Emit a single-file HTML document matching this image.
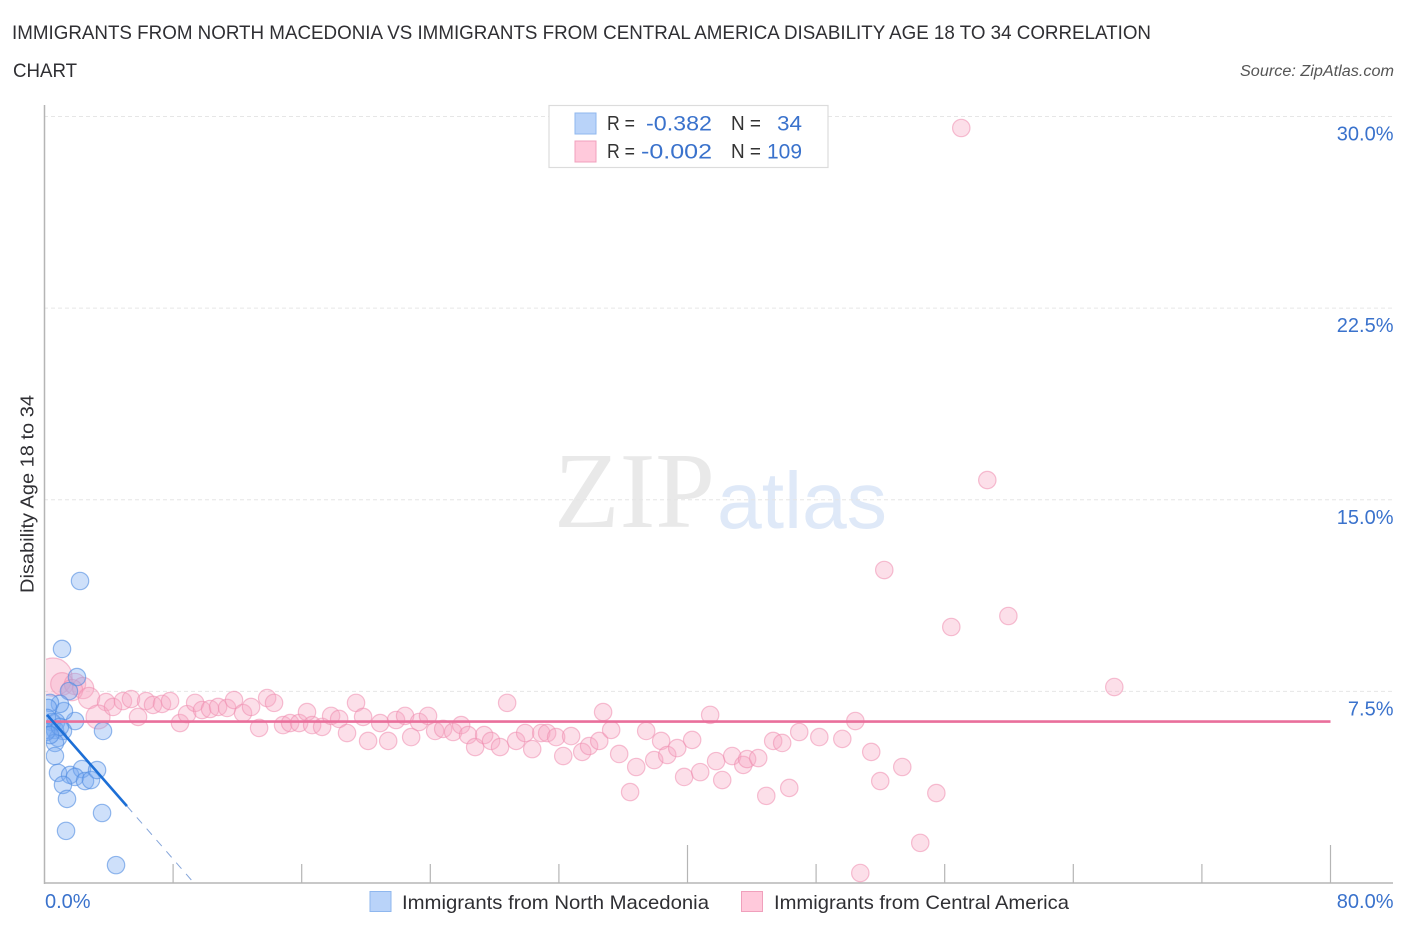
<!DOCTYPE html>
<html lang="en">
<head>
<meta charset="utf-8">
<title>Disability Age 18 to 34 Correlation Chart</title>
<style>
html,body{margin:0;padding:0;background:#fff;width:1406px;height:930px;overflow:hidden}
svg{display:block;font-family:"Liberation Sans",sans-serif}
</style>
</head>
<body>
<svg id="chart" xmlns="http://www.w3.org/2000/svg" width="1406" height="930" viewBox="0 0 1406 930">
  <defs>
    <clipPath id="plot-clip"><rect x="46" y="100" width="1350" height="783"/></clipPath>
  </defs>
  <rect width="1406" height="930" fill="#fff"/>

  <text x="12" y="39" font-size="19.5" fill="#2f2f33" textLength="1139" lengthAdjust="spacingAndGlyphs">IMMIGRANTS FROM NORTH MACEDONIA VS IMMIGRANTS FROM CENTRAL AMERICA DISABILITY AGE 18 TO 34 CORRELATION</text>
  <text x="13" y="77" font-size="19.5" fill="#2f2f33" textLength="64" lengthAdjust="spacingAndGlyphs">CHART</text>
  <text x="1394" y="76" font-size="15.5" font-style="italic" fill="#555" text-anchor="end" textLength="154" lengthAdjust="spacingAndGlyphs">Source: ZipAtlas.com</text>

  <g>
    <text x="554" y="527" font-family="'Liberation Serif',serif" font-size="108" fill="#e9e9e9" textLength="161" lengthAdjust="spacingAndGlyphs">ZIP</text>
    <text x="717" y="528" font-size="80" fill="#dfe9f8" textLength="170" lengthAdjust="spacingAndGlyphs">atlas</text>
  </g>

  <g id="grid"></g>
  <g id="axes"></g>
  <g id="pink-points" clip-path="url(#plot-clip)"></g>
  <g id="blue-points" clip-path="url(#plot-clip)"></g>
  <g id="trends" clip-path="url(#plot-clip)"></g>

  <text transform="translate(33.5,494) rotate(-90)" font-size="18.5" fill="#2f2f33" text-anchor="middle" textLength="198" lengthAdjust="spacingAndGlyphs">Disability Age 18 to 34</text>

  <g>
    <rect x="549" y="105.500" width="279" height="62" fill="#fff" stroke="#dcdcdc" stroke-width="1.200"/>
    <rect x="575" y="113" width="21" height="21" fill="#b9d3f9" stroke="#8fb7ee"/>
    <rect x="575" y="141" width="21" height="21" fill="#ffc9db" stroke="#f0a0bc"/>
    <g font-size="20" fill="#333">
      <text x="607" y="130" textLength="28" lengthAdjust="spacingAndGlyphs">R =</text>
      <text x="607" y="158" textLength="28" lengthAdjust="spacingAndGlyphs">R =</text>
      <text x="731" y="130" textLength="30" lengthAdjust="spacingAndGlyphs">N =</text>
      <text x="731" y="158" textLength="30" lengthAdjust="spacingAndGlyphs">N =</text>
    </g>
    <g font-size="21.500" fill="#3a72cc">
      <text x="646" y="130.500" textLength="66" lengthAdjust="spacingAndGlyphs">-0.382</text>
      <text x="641" y="158.500" textLength="71" lengthAdjust="spacingAndGlyphs">-0.002</text>
      <text x="777" y="130.500" textLength="25" lengthAdjust="spacingAndGlyphs">34</text>
      <text x="767" y="158.500" textLength="35" lengthAdjust="spacingAndGlyphs">109</text>
    </g>
  </g>

  <g>
    <g>
      <rect x="370" y="891.500" width="21" height="20" fill="#b9d3f9" stroke="#8fb7ee"/>
      <text x="402" y="909" font-size="19.500" fill="#2f2f33" textLength="307" lengthAdjust="spacingAndGlyphs">Immigrants from North Macedonia</text>
    </g>
    <g>
      <rect x="741.500" y="891.500" width="21" height="20" fill="#ffc9db" stroke="#f0a0bc"/>
      <text x="774" y="909" font-size="19.500" fill="#2f2f33" textLength="295" lengthAdjust="spacingAndGlyphs">Immigrants from Central America</text>
    </g>
  </g>
</svg>
<script>
// Tick labels
const yTickValues = [7.5, 15, 22.5, 30];
const yTickLabels = ["7.5%", "15.0%", "22.5%", "30.0%"];
const xTickValues = [0, 8, 16, 24, 32, 40, 48, 56, 64, 72, 80];
const xMajorTicks = [0, 40, 80];
const xEndLabels = ["0.0%", "80.0%"];

// Immigrants from North Macedonia
const macedoniaX = [2.21,1.09,2.02,1.52,3.64,1.90,1.21,0.96,0.34,0.22,0.47,0.72,0.22,0.65,1.15,0.84,0.65,0.65,0.84,1.59,2.33,1.90,2.52,2.89,3.27,1.15,1.40,3.58,1.34,4.45,0.09,0.16,0.96,0.34];
const macedoniaY = [11.82,9.16,8.06,7.51,5.95,6.34,6.73,7.01,7.05,6.85,6.30,6.30,5.99,5.99,5.95,5.68,5.48,4.97,4.31,4.23,4.46,4.15,3.99,4.03,4.42,3.84,3.29,2.74,2.04,0.70,5.91,6.46,6.11,5.79];

// Immigrants from Central America
const centralX = [0.53,1.09,1.90,2.40,1.71,2.77,3.83,3.33,4.26,4.88,5.38,6.32,6.75,7.31,7.81,5.82,8.43,8.87,9.37,9.80,10.30,10.80,11.36,11.79,12.35,12.85,13.35,13.85,14.28,14.84,15.28,15.84,16.33,16.65,17.27,17.83,18.33,18.82,19.38,19.82,20.13,20.88,21.38,21.87,22.43,22.81,23.30,23.86,24.30,24.80,25.42,25.92,26.35,26.79,27.35,27.78,28.34,28.78,29.34,29.90,30.34,30.90,31.27,31.83,32.27,32.76,33.45,33.88,34.51,34.75,35.25,35.75,36.81,36.43,37.43,37.93,38.36,38.74,39.36,40.29,39.79,40.79,41.41,41.78,42.16,42.78,43.47,43.71,44.40,45.33,45.89,44.90,46.33,46.95,48.20,49.63,50.44,51.43,51.99,53.36,55.48,54.48,50.75,66.55,59.96,56.41,52.24,58.65,57.03];
const centralY = [8.06,7.79,7.79,7.63,7.55,7.24,7.08,6.50,6.89,7.12,7.20,7.12,6.97,7.01,7.12,6.50,6.26,6.61,7.05,6.77,6.81,6.89,6.85,7.16,6.65,6.89,6.07,7.24,7.05,6.18,6.26,6.26,6.69,6.18,6.11,6.54,6.42,5.87,7.05,6.50,5.56,6.26,5.56,6.38,6.54,5.71,6.30,6.54,5.95,6.03,5.91,6.18,5.79,5.32,5.79,5.56,5.32,7.05,5.56,5.87,5.24,5.87,5.87,5.71,4.97,5.75,5.13,5.36,5.56,6.69,5.99,5.05,4.54,3.56,5.95,4.81,5.56,5.01,5.28,5.60,4.15,4.34,6.58,4.77,4.03,4.97,4.62,4.85,4.89,5.56,5.48,3.41,3.72,5.91,5.71,5.64,6.34,5.13,3.99,4.54,3.52,1.57,0.39,7.67,10.45,10.02,12.25,15.77,29.55];
const centralWeight = [4.8,1.7,1.5,1.5,1.5,1.5,1,1.9,1,1,1,1,1,1,1,1,1,1,1,1,1,1,1,1,1,1,1,1,1,1,1,1,1,1,1,1,1,1,1,1,1,1,1,1,1,1,1,1,1,1,1,1,1,1,1,1,1,1,1,1,1,1,1,1,1,1,1,1,1,1,1,1,1,1,1,1,1,1,1,1,1,1,1,1,1,1,1,1,1,1,1,1,1,1,1,1,1,1,1,1,1,1,1,1,1,1,1,1,1];

// Trend lines (axis units)
const macedoniaTrendX = [0.16, 5.13, 9.24];
const macedoniaTrendY = [6.58, 3.01, 0.04];
const centralTrendX = [0, 80];
const centralTrendY = [6.32, 6.32];

const xScale = v => 44.5 + v * 16.075;
const yScale = v => 883 - v * 25.55;
const NS = "http://www.w3.org/2000/svg";
function make(parent, tag, props, text) {
  const el = document.createElementNS(NS, tag);
  for (const k in props) el.setAttribute(k, props[k]);
  if (text !== undefined) el.textContent = text;
  parent.appendChild(el);
  return el;
}

const grid = document.getElementById("grid");
yTickValues.forEach((v, i) => {
  const y = yScale(v);
  const line = make(grid, "line", {x1: 44, x2: 1393, y1: y, y2: y, stroke: "#e6e6e6", "stroke-width": 1, "stroke-dasharray": "4 3"});
  
  
  const label = make(grid, "text", {x: 1393.5, y: y + 24, "font-size": 20, fill: "#3a72cc", "text-anchor": "end"}, yTickLabels[i]);
  
  
});

const axes = document.getElementById("axes");
const yAxis = make(axes, "line", {x1: 44.5, x2: 44.5, y1: 105, y2: 884, stroke: "#b5b5b5", "stroke-width": 1.5});


const xAxis = make(axes, "line", {x1: 44, x2: 1393, y1: 883, y2: 883, stroke: "#b5b5b5", "stroke-width": 1.5});


xTickValues.forEach(v => {
  if (v === 0) return;
  const x = xScale(v);
  const top = xMajorTicks.includes(v) ? 845 : 864;
  const tick = make(axes, "line", {x1: x, x2: x, y1: top, y2: 883, stroke: "#b5b5b5", "stroke-width": 1.2});
  
  
});
const xStart = make(axes, "text", {x: 45, y: 908, "font-size": 20, fill: "#3a72cc"}, xEndLabels[0]);


const xEnd = make(axes, "text", {x: 1393.5, y: 908, "font-size": 20, fill: "#3a72cc", "text-anchor": "end"}, xEndLabels[1]);



const pinkGroup = document.getElementById("pink-points");
centralX.forEach((v, i) => {
  const c = make(pinkGroup, "circle", {cx: xScale(v), cy: yScale(centralY[i]), r: 8.7 * Math.sqrt(centralWeight[i]), fill: "rgba(248,165,195,0.36)", stroke: "rgba(238,140,175,0.55)", "stroke-width": 1.2});
  
  
});

const blueGroup = document.getElementById("blue-points");
macedoniaX.forEach((v, i) => {
  const c = make(blueGroup, "circle", {cx: xScale(v), cy: yScale(macedoniaY[i]), r: 8.7, fill: "rgba(120,170,240,0.36)", stroke: "rgba(80,140,225,0.6)", "stroke-width": 1.2});
  
  
});

const trends = document.getElementById("trends");
const pinkTrend = make(trends, "line", {x1: xScale(centralTrendX[0]), y1: yScale(centralTrendY[0]), x2: xScale(centralTrendX[1]), y2: yScale(centralTrendY[1]), stroke: "#e96f9b", "stroke-width": 2.6});


const blueTrend = make(trends, "line", {x1: xScale(macedoniaTrendX[0]), y1: yScale(macedoniaTrendY[0]), x2: xScale(macedoniaTrendX[1]), y2: yScale(macedoniaTrendY[1]), stroke: "#1d6fd6", "stroke-width": 2.6});


const blueDash = make(trends, "line", {x1: xScale(macedoniaTrendX[1]), y1: yScale(macedoniaTrendY[1]), x2: xScale(macedoniaTrendX[2]), y2: yScale(macedoniaTrendY[2]), stroke: "#86a6da", "stroke-width": 1, "stroke-dasharray": "8 7"});


</script>
</body>
</html>
